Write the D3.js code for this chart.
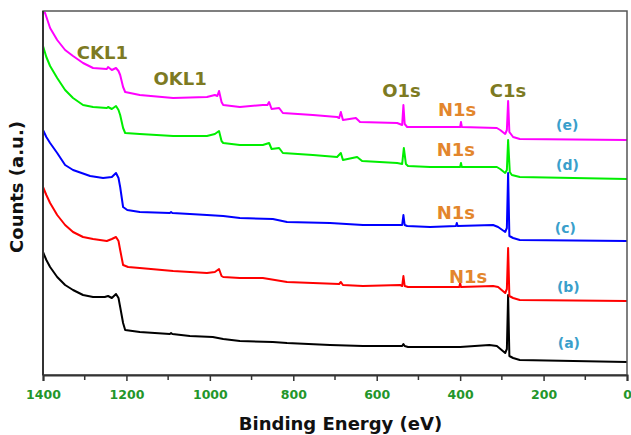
<!DOCTYPE html>
<html>
<head>
<meta charset="utf-8">
<script src="https://cdn.jsdelivr.net/npm/d3@7"></script>
<style>
  body { margin: 0; background: #fff; }
  svg text { font-family: "DejaVu Sans", sans-serif; font-weight: bold; }
</style>
</head>
<body>
<div id="chart"></div>
<script>
// binding energy (eV) / intensity (a.u.)
var spectrumA = [
    [1400,123],[1392,115],[1383,108],[1366,98],[1347,90],[1328,85],[1304,80],[1280,78],[1252,78],
    [1244,79],[1235,77],[1225,81],[1219,77],[1215,68],[1208,52],[1203,45],[1168,43],[1096,41],
    [1093,42],[1090,41],[1048,39],[993,38],[968,36],[928,34],[849,33],[815,32],[712,30],[633,29],
    [544,29],[539,29],[536,31],[533,29],[525,28],[472,28],[400,28],[330,30],[312,29],[292,22],
    [288,26],[285,80],[282,19],[273,17],[257,15],[0,13]
];
var spectrumB = [
    [1400,188],[1392,180],[1383,172],[1366,160],[1347,150],[1328,143],[1304,138],[1280,136],
    [1247,134],[1235,136],[1225,138],[1219,134],[1215,125],[1208,110],[1196,108],[1168,107],
    [1088,104],[1007,102],[988,103],[978,106],[972,99],[968,98],[928,97],[873,97],[815,93],
    [753,92],[690,91],[686,93],[681,90],[633,89],[544,90],[539,89],[536,99],[533,89],[525,88],
    [472,88],[402,88],[400,92],[398,88],[321,89],[309,88],[292,82],[288,86],[285,127],[282,79],
    [273,77],[257,75],[0,74]
];
var spectrumC = [
    [1400,245],[1392,238],[1383,232],[1366,222],[1347,210],[1328,205],[1287,199],[1256,197],
    [1235,198],[1225,202],[1219,197],[1215,188],[1208,168],[1198,165],[1168,163],[1096,162],
    [1093,163],[1090,162],[1048,161],[1007,160],[968,159],[928,157],[849,156],[815,153],
    [712,152],[633,150],[544,150],[539,150],[536,160],[533,150],[527,149],[472,148],[410,149],
    [408,152],[406,149],[321,150],[309,148],[292,143],[288,147],[285,202],[282,139],[273,137],
    [257,135],[0,134]
];
var spectrumD = [
    [1400,329],[1392,318],[1383,309],[1366,297],[1347,285],[1328,277],[1304,270],[1280,268],
    [1247,267],[1244,268],[1235,266],[1225,269],[1219,265],[1215,260],[1208,247],[1203,242],
    [1168,241],[1088,239],[1007,239],[988,241],[978,244],[972,234],[968,232],[928,230],[873,230],
    [858,232],[852,226],[834,227],[825,222],[753,220],[695,218],[686,222],[681,215],[647,218],
    [635,214],[551,212],[539,211],[535,227],[530,211],[525,209],[472,208],[400,208],[398,212],
    [396,208],[312,208],[304,206],[292,202],[288,205],[285,235],[281,203],[276,200],[257,198],
    [0,196]
];
var spectrumE = [
    [1400,363],[1395,362],[1383,347],[1366,335],[1347,325],[1328,319],[1304,312],[1280,307],
    [1247,306],[1244,308],[1235,305],[1225,307],[1219,304],[1215,300],[1208,288],[1203,283],
    [1168,280],[1088,277],[1007,278],[988,280],[982,279],[978,284],[972,273],[968,270],[928,268],
    [873,270],[862,270],[858,273],[852,266],[834,267],[825,262],[753,260],[695,258],[690,257],
    [686,263],[681,255],[650,257],[640,253],[551,252],[539,250],[536,270],[533,251],[527,248],
    [472,248],[400,248],[398,253],[396,248],[312,247],[304,245],[292,241],[288,245],[285,274],
    [282,243],[273,238],[257,236],[0,235]
];

var series = [
    {name: "(a)", color: "#000000", data: spectrumA},
    {name: "(b)", color: "#ff0000", data: spectrumB},
    {name: "(c)", color: "#0000ff", data: spectrumC},
    {name: "(d)", color: "#00ee00", data: spectrumD},
    {name: "(e)", color: "#ff00ff", data: spectrumE}
];

var xTicks = [1400, 1200, 1000, 800, 600, 400, 200, 0];
var xMinorTicks = [1300, 1100, 900, 700, 500, 300, 100];

// peak annotations: [text, energy, intensity]
var peakLabels = [
    ["CKL1", 1319, 316],
    ["OKL1", 1135, 290],
    ["O1s", 587, 278],
    ["C1s", 329, 278]
];
var nitrogenLabels = [
    ["N1s", 453, 259],
    ["N1s", 456, 219],
    ["N1s", 456, 156],
    ["N1s", 427, 92]
];
var curveLabels = [
    ["(e)", 170, 245],
    ["(d)", 170, 205],
    ["(c)", 173, 142],
    ["(b)", 168, 83],
    ["(a)", 166, 27]
];

var W = 631, H = 435;
var margin = {top: 11, right: 4, bottom: 60, left: 43},
    width = W - margin.left - margin.right,
    height = H - margin.top - margin.bottom;

var svg = d3.select("#chart")
    .append("svg")
    .attr("width", W)
    .attr("height", H)
    .append("g")
    .attr("transform", "translate(" + margin.left + "," + margin.top + ")");

var x = d3.scaleLinear().domain([1400, 0]).range([0, width]);
var y = d3.scaleLinear().domain([0, 364]).range([height, 0]);

// spectra
var line = d3.line()
    .x(function(d) { return x(d[0]); })
    .y(function(d) { return y(d[1]); });

svg.selectAll(".spectrum")
    .data(series)
    .enter()
    .append("path")
    .attr("class", "spectrum")
    .attr("d", function(d) { return line(d.data); })
    .attr("fill", "none")
    .attr("stroke", function(d) { return d.color; })
    .attr("stroke-width", 2)
    .attr("stroke-linejoin", "round");

// frame
svg.append("rect")
    .attr("width", width)
    .attr("height", height)
    .attr("fill", "none")
    .attr("stroke", "#555")
    .attr("stroke-width", 1.5);

svg.append("line")
    .attr("x1", 0).attr("x2", 0)
    .attr("y1", 0).attr("y2", height)
    .attr("stroke", "#333")
    .attr("stroke-width", 2);

// x axis
var xAxis = svg.append("g")
    .attr("transform", "translate(0," + height + ")")
    .call(d3.axisBottom(x).tickValues(xTicks).tickSize(6).tickPadding(9).tickFormat(d3.format("d")));
xAxis.select(".domain").attr("stroke", "#333").attr("stroke-width", 2);
xAxis.selectAll(".tick line").attr("stroke", "#333").attr("stroke-width", 1.5);
xAxis.selectAll("text")
    .attr("fill", "#23962a")
    .style("font-size", "12.5px");

svg.append("g")
    .attr("transform", "translate(0," + height + ")")
    .selectAll("line")
    .data(xMinorTicks)
    .enter()
    .append("line")
    .attr("x1", function(d) { return x(d); })
    .attr("x2", function(d) { return x(d); })
    .attr("y1", 0)
    .attr("y2", 5)
    .attr("stroke", "#333")
    .attr("stroke-width", 1.5);

// axis titles
svg.append("text")
    .attr("x", (238 + 443) / 2 - margin.left)
    .attr("y", 430 - margin.top)
    .attr("text-anchor", "middle")
    .style("font-size", "18px")
    .attr("fill", "#111")
    .text("Binding Energy (eV)");

svg.append("text")
    .attr("transform", "translate(" + (23 - margin.left) + "," + (187 - margin.top) + ") rotate(-90)")
    .attr("text-anchor", "middle")
    .style("font-size", "18px")
    .attr("fill", "#111")
    .text("Counts (a.u.)");

// annotations
function addLabels(rows, color, size) {
    svg.append("g")
        .selectAll("text")
        .data(rows)
        .enter()
        .append("text")
        .attr("x", function(d) { return x(d[1]); })
        .attr("y", function(d) { return y(d[2]); })
        .attr("fill", color)
        .style("font-size", size)
        .text(function(d) { return d[0]; });
}

addLabels(peakLabels, "#7d7a22", "18px");
addLabels(nitrogenLabels, "#e3862c", "18px");
addLabels(curveLabels, "#3a9fcb", "14px");
</script>
</body>
</html>
